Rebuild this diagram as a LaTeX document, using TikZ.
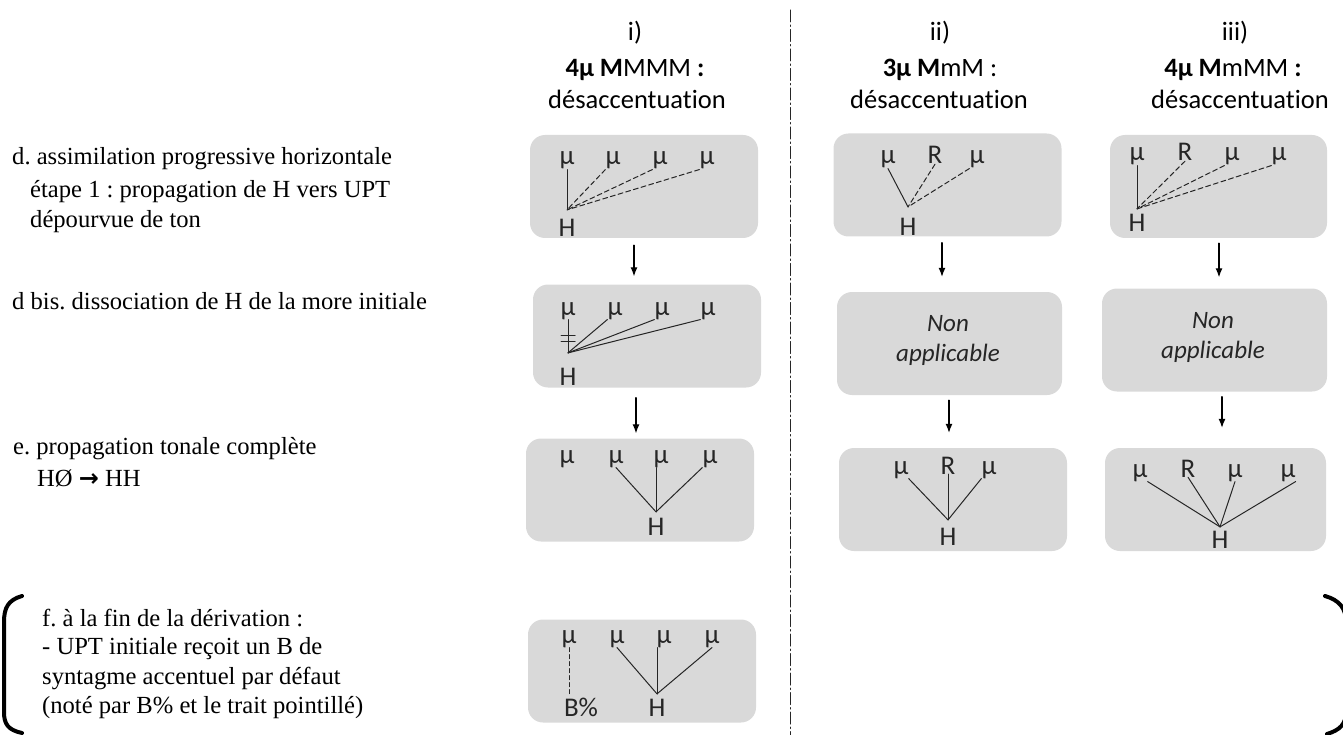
\documentclass[tikz,border=0pt]{standalone}
\usepackage{fontspec}
\setmainfont{Liberation Serif}
\newfontfamily\carlito{Carlito}[Ligatures=NoCommon]
\newfontfamily\dejavu{DejaVu Sans}
\usetikzlibrary{arrows.meta}
\definecolor{dadada}{rgb}{0.85,0.85,0.85}
\definecolor{qqqqqq}{rgb}{0.15,0.15,0.15}
\frenchspacing

\tikzset{
	boite/.style={fill=dadada,rounded corners=15pt,minimum width=228pt,minimum height=103pt,inner sep=0pt},
	lab/.style={font=\carlito\fontsize{27}{30}\selectfont,inner sep=0pt,anchor=base,color=qqqqqq},
	nonapp/.style={font=\carlito\itshape\fontsize{25}{30}\selectfont,inner sep=0pt,align=center,color=qqqqqq},
	entete/.style={font=\carlito\fontsize{26.5}{33}\selectfont,inner sep=0pt,anchor=base},
	regle/.style={font=\fontsize{24.6}{30}\selectfont,inner sep=0pt,anchor=base west},
	lien/.style={line width=1pt,color=qqqqqq},
	pointille/.style={lien,dash pattern=on 5pt off 3pt},
	fleche/.style={-{Latex[length=9pt,width=7pt]},line width=1.2pt}
}

\begin{document}
\begin{tikzpicture}[line cap=round,line join=round,x=1pt,y=-1pt]
		\useasboundingbox (0,0) rectangle (1343,735);
		\clip (0,0) rectangle (1343,735);
		% column titles
		\node[entete] (ta) at (635,41) {i)};
		\node[entete] (ca) at (635,77) {\bfseries 4μ M\mdseries MMM \bfseries :};
		\node[entete] (da) at (637,109) {désaccentuation};
		\node[entete] (tb) at (940,41) {ii)};
		\node[entete] (cb) at (940,77) {\bfseries 3μ M\mdseries mM :};
		\node[entete] (db) at (939,109) {désaccentuation};
		\node[entete] (tc) at (1235,41) {iii)};
		\node[entete] (cc) at (1233,77) {\bfseries 4μ M\mdseries mMM \bfseries :};
		\node[entete] (dc) at (1240,109) {désaccentuation};
		\draw [line width=1pt,color=qqqqqq,dash pattern=on 12pt off 3pt on 1.5pt off 3pt] (790,10) -- (790,735);
		% rules on the left
		\node[regle] (d1) at (12,165) {d. assimilation progressive horizontale};
		\node[regle] (d2) at (30,198) {étape 1 : propagation de H vers UPT};
		\node[regle] (d3) at (30,228) {dépourvue de ton};
		\node[regle] (dbis) at (12,309) {d bis. dissociation de H de la more initiale};
		\node[regle] (e1) at (13,454) {e. propagation tonale complète};
		\node[regle] (e2) at (37,486) {HØ {\dejavu\bfseries\fontsize{24}{28}\selectfont →} HH};
		\node[regle] (f1) at (42,626) {f. à la fin de la dérivation :};
		\node[regle] (f2) at (42,654) {- UPT initiale reçoit un B de};
		\node[regle] (f3) at (42,684) {syntagme accentuel par défaut};
		\node[regle] (f4) at (42,713) {(noté par B\% et le trait pointillé)};
		\draw [line width=4pt] (22,596) .. controls (8,600) and (4,608) .. (4,622) -- (4,712) .. controls (4,724) and (8,730) .. (22,733);
		\draw [line width=4pt] (1325,596) .. controls (1339,600) and (1346,608) .. (1346,622) -- (1346,712) .. controls (1346,724) and (1340,730) .. (1327,734);
		% boxes
		\node[boite] (ba1) at (644,186.5) {};
		\node[boite] (ba2) at (647,336) {};
		\node[boite] (ba3) at (640,490) {};
		\node[boite] (ba4) at (642,671) {};
		\node[boite] (bb1) at (947.5,185) {};
		\node[boite,minimum width=225pt] (bb2) at (949.5,343.5) {};
		\node[boite] (bb3) at (953,499.5) {};
		\node[boite,minimum width=217pt] (bc1) at (1218.5,186.5) {};
		\node[boite,minimum width=225pt] (bc2) at (1214.5,340) {};
		\node[boite,minimum width=221pt] (bc3) at (1215.5,499.5) {};
		\foreach \a/\b/\dx/\ex/\sa/\sb in {ba1/ba2/-10/-13/7/8,ba2/ba3/-11/-4/10/5,bb1/bb2/-5.5/-7.5/6/15,bb2/bb3/-0.5/-4/5/15,bc1/bc2/0.5/4.5/5/11,bc2/bc3/7.5/6.5/5/20}
		\draw[fleche,shorten <=\sa pt,shorten >=\sb pt] ([xshift=\dx pt]\a.south) -- ([xshift=\ex pt]\b.north);
		% i) step d
		\foreach \x [count=\i] in {567,613,660,707}
		\node[lab] (ma1\i) at (\x,165) {μ};
		\node[lab] (ha1) at (567,236.4) {H};
		\coordinate (ja1) at ([yshift=9pt]ha1.north);
		\draw[lien] (ma11.south) -- (ja1);
		\foreach \i in {2,3,4}
		\draw[pointille] (ma1\i.south west) -- (ja1);
		% i) step d bis
		\foreach \x [count=\i] in {568,615,662,708}
		\node[lab] (ma2\i) at (\x,315) {μ};
		\node[lab] (ha2) at (568,385.4) {H};
		\coordinate (ja2) at ([yshift=15pt]ha2.north);
		\draw[lien] (ma21.south) -- (ja2);
		\foreach \i in {2,3,4}
		\draw[lien] (ma2\i.south west) -- (ja2);
		\draw[lien] (561,335) -- (575,335) (561,341) -- (575,341);
		% i) step e
		\foreach \x [count=\i] in {567,616,661,710}
		\node[lab] (ma3\i) at (\x,463) {μ};
		\node[lab] (ha3) at (656,535.4) {H};
		\coordinate (ja3) at ([yshift=6pt]ha3.north);
		\draw[lien] (ma32.south) -- (ja3);
		\draw[lien] (ma33.south -| ja3) -- (ja3);
		\draw[lien] (ma34.south west) -- (ja3);
		% i) step f
		\foreach \x [count=\i] in {569,617,664,712}
		\node[lab] (ma4\i) at (\x,643) {μ};
		\node[lab] (pa4) at (581,716.4) {B\%};
		\node[lab] (ha4) at (657,716.4) {H};
		\coordinate (ja4) at ([yshift=5pt]ha4.north);
		\draw[lien,dash pattern=on 4pt off 3pt,shorten >=4pt] (ma41.south) -- (ma41.south |- pa4.north);
		\draw[lien] (ma42.south) -- (ja4);
		\draw[lien] (ma43.south -| ja4) -- (ja4);
		\draw[lien] (ma44.south) -- (ja4);
		% ii)
		\foreach \x/\t [count=\i] in {888/μ,935/R,977/μ}
		\node[lab] (mb1\i) at (\x,164) {\t};
		\node[lab] (hb1) at (908,235.4) {H};
		\coordinate (jb1) at ([yshift=11pt]hb1.north);
		\draw[lien] (mb11.south) -- (jb1);
		\draw[pointille] (mb12.south) -- (jb1);
		\draw[pointille] (mb13.south west) -- (jb1);
		\node[nonapp] (nb2) at (948,340) {Non\\applicable};
		\foreach \x/\t [count=\i] in {901/μ,948/R,989/μ}
		\node[lab] (mb3\i) at (\x,474) {\t};
		\node[lab] (hb3) at (948,545.4) {H};
		\coordinate (jb3) at ([yshift=8pt]hb3.north);
		\draw[lien] (mb31.south east) -- (jb3);
		\draw[lien] (mb32.south) -- (jb3);
		\draw[lien] (mb33.south west) -- (jb3);
		% iii)
		\foreach \x/\t [count=\i] in {1137/μ,1185/R,1232/μ,1279/μ}
		\node[lab] (mc1\i) at (\x,161) {\t};
		\node[lab] (hc1) at (1137,231.4) {H};
		\coordinate (jc1) at ([yshift=5pt]hc1.north);
		\draw[lien] (mc11.south) -- (jc1);
		\draw[pointille] (mc12.south) -- (jc1);
		\foreach \i in {3,4}
		\draw[pointille] (mc1\i.south west) -- (jc1);
		\node[nonapp] (nc2) at (1213,337) {Non\\applicable};
		\foreach \x/\t [count=\i] in {1140/μ,1188/R,1235/μ,1288/μ}
		\node[lab] (mc3\i) at (\x,477) {\t};
		\node[lab] (hc3) at (1220,548.4) {H};
		\coordinate (jc3) at ([yshift=4pt]hc3.north);
		\draw[lien] (mc31.south east) -- (jc3);
		\draw[lien] (mc32.south) -- (jc3);
		\draw[lien] (mc33.south) -- (jc3);
		\draw[lien] (mc34.south east) -- (jc3);
	\end{tikzpicture}
\end{document}
